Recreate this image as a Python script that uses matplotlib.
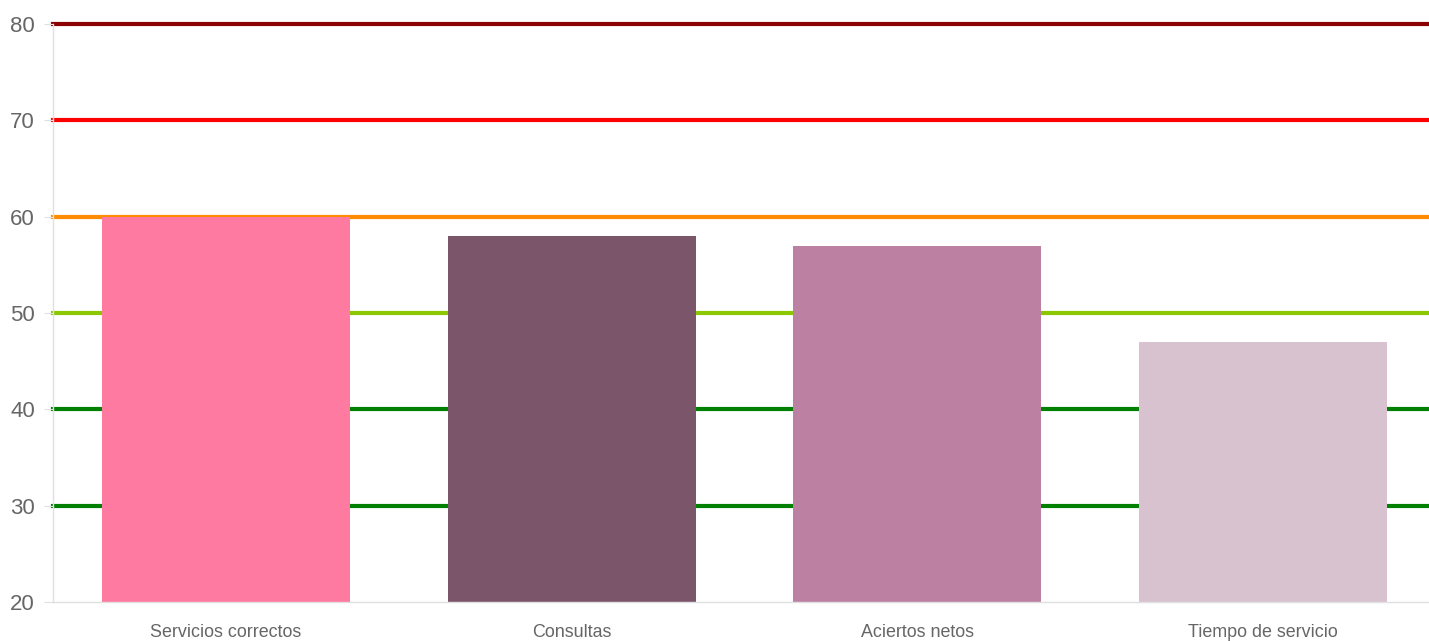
import matplotlib
matplotlib.use('Agg')
import matplotlib.pyplot as plt

plt.rcParams['font.family'] = ['Liberation Sans', 'DejaVu Sans']

categories = ['Servicios correctos', 'Consultas', 'Aciertos netos', 'Tiempo de servicio']
values = [60, 58, 57, 47]
bar_colours = ['#ff7aa0', '#7b5569', '#bc80a2', '#d9c2cf']

# reference lines
ref_levels = [80, 70, 60, 50, 40, 30]
ref_colours = ['#8b0000', '#ff0000', '#ff8c00', '#8cc800', '#008000', '#008000']

fig = plt.figure(figsize=(14.29, 6.41), dpi=100)
# plot area runs a little past the right edge of the image
ax = fig.add_axes([53 / 1429, 1 - 602 / 641, 1383 / 1429, 578 / 641])

for level, col in zip(ref_levels, ref_colours):
    ax.axhline(level, color=col, linewidth=3, zorder=1, clip_on=False)

x = range(len(categories))
ax.bar(x, values, width=0.717, color=bar_colours, zorder=2)

ax.set_xlim(-0.5, len(categories) - 0.5)
ax.set_ylim(20, 80)
ax.set_yticks([20, 30, 40, 50, 60, 70, 80])
ax.set_xticks(list(x))
ax.set_xticklabels(categories)

for side in ['top', 'right']:
    ax.spines[side].set_visible(False)
for side in ['left', 'bottom']:
    ax.spines[side].set_color('#e0e0e0')
    ax.spines[side].set_linewidth(1)

ax.tick_params(axis='y', colors='#e0e0e0', labelcolor='#666666', labelsize=16, length=6.5, pad=6.5)
ax.tick_params(axis='x', length=0, labelcolor='#666666', labelsize=12.9, pad=15.5)

fig.savefig('out.png', dpi=100)
